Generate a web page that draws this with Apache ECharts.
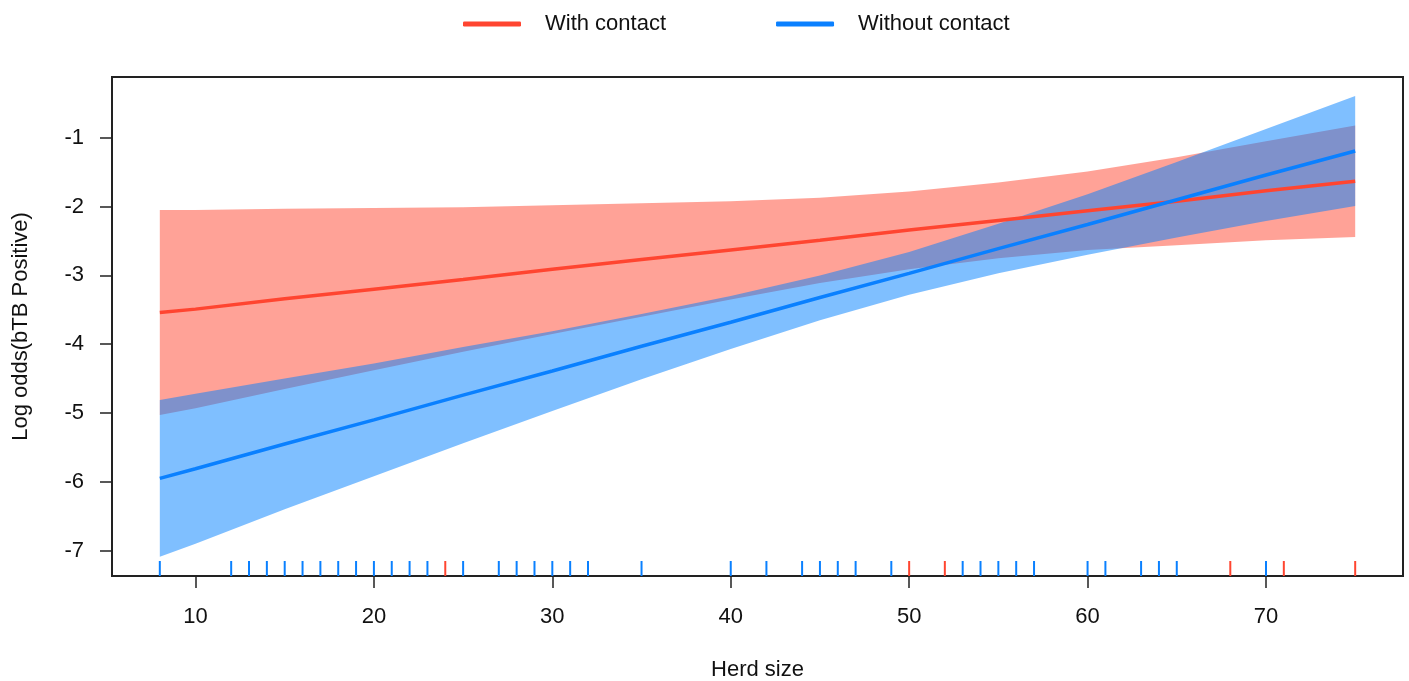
<!DOCTYPE html>
<html>
<head>
<meta charset="utf-8">
<script src="https://cdn.jsdelivr.net/npm/echarts@6/dist/echarts.min.js"></script>
<style>
html,body{margin:0;padding:0;background:#fff;}
#chart{width:1409px;height:681px;}
</style>
</head>
<body>
<div id="chart"></div>
<script>
// Herd size sample points
const herd = [8, 10, 15, 20, 25, 30, 35, 40, 45, 50, 55, 60, 65, 70, 75];
// With contact: fitted log odds and confidence band
const withFit   = [-3.54, -3.49, -3.34, -3.20, -3.06, -2.91, -2.77, -2.63, -2.49, -2.34, -2.20, -2.06, -1.92, -1.77, -1.63];
const withUpper = [-2.05, -2.05, -2.03, -2.02, -2.01, -1.98, -1.95, -1.92, -1.87, -1.78, -1.65, -1.49, -1.28, -1.05, -0.82];
const withLower = [-5.03, -4.93, -4.65, -4.38, -4.11, -3.85, -3.60, -3.35, -3.11, -2.91, -2.75, -2.63, -2.56, -2.49, -2.44];
// Without contact: fitted log odds and confidence band
const withoutFit   = [-5.95, -5.81, -5.45, -5.10, -4.74, -4.39, -4.03, -3.68, -3.32, -2.97, -2.61, -2.26, -1.90, -1.54, -1.19];
const withoutUpper = [-4.81, -4.72, -4.50, -4.28, -4.04, -3.81, -3.56, -3.30, -3.00, -2.66, -2.25, -1.82, -1.35, -0.87, -0.39];
const withoutLower = [-7.09, -6.90, -6.40, -5.92, -5.44, -4.97, -4.51, -4.07, -3.65, -3.28, -2.97, -2.70, -2.45, -2.21, -1.99];
// Rug (observed herd sizes)
const rugWith = [24, 50, 52, 68, 71, 75];
const rugWithout = [8, 12, 13, 14, 15, 16, 17, 18, 19, 20, 21, 22, 23, 25, 27, 28, 29, 30, 31, 32, 35, 40, 42, 44, 45, 46, 47, 49, 53, 54, 55, 56, 57, 60, 61, 63, 64, 65, 70];
// Axis ticks
const xTicks = [10, 20, 30, 40, 50, 60, 70];
const yTicks = [-7, -6, -5, -4, -3, -2, -1];
const xRange = [5.32, 77.68];
const yRange = [-7.37, -0.115];

const RED = '#FF4530', RED_BAND = 'rgba(255,70,48,0.5)';
const BLUE = '#0A80FF', BLUE_BAND = 'rgba(0,128,255,0.5)';
const FONT = "'Liberation Sans', Arial, sans-serif";
const FS = 22;

function pairs(ys) { return herd.map((x, i) => [x, ys[i]]); }

function bandSeries(name, lower, upper, color) {
  return {
    name: name, type: 'custom', data: [[herd[0], lower[0]]], animation: false, silent: true,
    renderItem: function (params, api) {
      const pts = [];
      for (let i = 0; i < herd.length; i++) pts.push(api.coord([herd[i], upper[i]]));
      for (let i = herd.length - 1; i >= 0; i--) pts.push(api.coord([herd[i], lower[i]]));
      return { type: 'polygon', shape: { points: pts }, style: { fill: color } };
    }
  };
}

function rugSeries(name, xs, color) {
  return {
    name: name, type: 'custom', data: xs.map(x => [x]), animation: false, silent: true,
    renderItem: function (params, api) {
      const p = api.coord([api.value(0), yRange[0]]);
      return { type: 'line', shape: { x1: p[0], y1: p[1], x2: p[0], y2: p[1] - 15 },
        style: { stroke: color, lineWidth: 2 } };
    }
  };
}

const chart = echarts.init(document.getElementById('chart'));
chart.setOption({
  backgroundColor: '#fff',
  animation: false,
  textStyle: { fontFamily: FONT },
  legend: {
    left: 458, top: 8, itemWidth: 58, itemHeight: 5, itemGap: 110,
    textStyle: { fontSize: FS, color: '#111', fontFamily: FONT, padding: [0, 0, 0, 19] },
    data: [
      { name: 'With contact', icon: 'roundRect', itemStyle: { color: RED } },
      { name: 'Without contact', icon: 'roundRect', itemStyle: { color: BLUE } }
    ]
  },
  grid: { left: 112, right: 6, top: 77, bottom: 105, show: true, borderColor: '#222', borderWidth: 2,
    backgroundColor: 'transparent', containLabel: false, outerBoundsMode: 'none' },
  xAxis: {
    type: 'value', min: xRange[0], max: xRange[1],
    name: 'Herd size', nameLocation: 'middle', nameGap: 83,
    nameTextStyle: { fontSize: FS, color: '#111', fontFamily: FONT },
    axisLine: { show: false },
    splitLine: { show: false },
    axisTick: { show: true, inside: false, length: 12, customValues: xTicks, lineStyle: { color: '#222', width: 1.5 } },
    axisLabel: { customValues: xTicks, fontSize: FS, color: '#111', margin: 30, fontFamily: FONT }
  },
  yAxis: {
    type: 'value', min: yRange[0], max: yRange[1],
    name: 'Log odds(bTB Positive)', nameLocation: 'middle', nameGap: 80,
    nameTextStyle: { fontSize: FS, color: '#111', fontFamily: FONT },
    axisLine: { show: false },
    splitLine: { show: false },
    axisTick: { show: true, inside: false, length: 12, customValues: yTicks, lineStyle: { color: '#222', width: 1.5 } },
    axisLabel: { customValues: yTicks, fontSize: FS, color: '#111', margin: 28, fontFamily: FONT }
  },
  series: [
    bandSeries('withBand', withLower, withUpper, RED_BAND),
    { name: 'With contact', type: 'line', data: pairs(withFit), symbol: 'none', color: RED,
      lineStyle: { color: RED, width: 3.5 }, animation: false },
    bandSeries('withoutBand', withoutLower, withoutUpper, BLUE_BAND),
    { name: 'Without contact', type: 'line', data: pairs(withoutFit), symbol: 'none', color: BLUE,
      lineStyle: { color: BLUE, width: 3.5 }, animation: false },
    rugSeries('rugWithout', rugWithout, BLUE),
    rugSeries('rugWith', rugWith, RED)
  ]
});
</script>
</body>
</html>
